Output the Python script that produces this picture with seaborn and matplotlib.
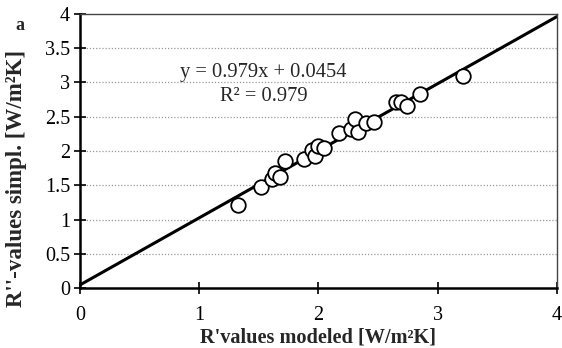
import numpy as np
import pandas as pd
import matplotlib
matplotlib.use("Agg")
import matplotlib.pyplot as plt
import seaborn as sns

x_modeled = [1.33, 1.52, 1.61, 1.64, 1.68, 1.72, 1.88, 1.95, 1.97, 2.00, 2.05,
             2.17, 2.27, 2.31, 2.33, 2.40, 2.47, 2.65, 2.69, 2.74, 2.85, 3.21]
y_simpl = [1.21, 1.47, 1.59, 1.68, 1.62, 1.86, 1.89, 2.02, 1.93, 2.07, 2.05,
           2.27, 2.32, 2.46, 2.28, 2.41, 2.43, 2.71, 2.72, 2.66, 2.83, 3.09]
slope = 0.979
intercept = 0.0454
line_x = [0, 4]
y_ticks = [0, 0.5, 1, 1.5, 2, 2.5, 3, 3.5, 4]
x_ticks = [0, 1, 2, 3, 4]

sns.set_style("ticks")
plt.rcParams['font.family'] = ['Liberation Serif', 'DejaVu Serif']
plt.rcParams['mathtext.fontset'] = 'stix'

df = pd.DataFrame({"x": x_modeled, "y": y_simpl})

fig = plt.figure(figsize=(5.62, 3.48), dpi=100)
ax = fig.add_axes([0.142, 0.172, 0.849, 0.788])

for yv in y_ticks[1:-1]:
    ax.axhline(yv, color="#999999", lw=0.9, ls=(0, (1, 1.5)), zorder=0)

lx = np.array(line_x, dtype=float)
ax.plot(lx, slope * lx + intercept, color="black", lw=2.2, zorder=2)

sns.scatterplot(data=df, x="x", y="y", ax=ax, marker="o", s=110,
                facecolor="white", edgecolor="black", linewidth=1.3, zorder=3,
                legend=False)

ax.set_xlim(0, 4)
ax.set_ylim(0, 4)
ax.set_xticks(x_ticks)
ax.set_yticks(y_ticks)
ax.set_xticklabels([f"{v:g}" for v in x_ticks])
ax.set_yticklabels([f"{v:g}" for v in y_ticks])
ax.tick_params(direction="inout", length=8, width=1.2, labelsize=14.5, colors="black")
ax.tick_params(axis="x", pad=9)
ax.tick_params(axis="y", pad=3)

for name, sp in ax.spines.items():
    sp.set_visible(True)
    if name in ("left", "bottom"):
        sp.set_color("black")
        sp.set_linewidth(1.8)
    else:
        sp.set_color("#444444")
        sp.set_linewidth(1.0)

ax.set_xlabel("R'values modeled [W/m²K]", fontsize=14.6, fontweight="bold", labelpad=2)
ax.set_ylabel("R''-values simpl. [W/m²K]", fontsize=16.5, fontweight="bold")
ax.yaxis.set_label_coords(-0.11, 0.40)

ax.text(1.54, 3.15, f"y = {slope}x + {intercept}", ha="center", va="center", fontsize=14.8)
ax.text(1.54, 2.79, "R² = 0.979", ha="center", va="center", fontsize=14.8)

fig.text(0.036, 0.928, "a", fontsize=13, fontweight="bold", ha="center", va="center")

fig.savefig("out.png", dpi=100)
